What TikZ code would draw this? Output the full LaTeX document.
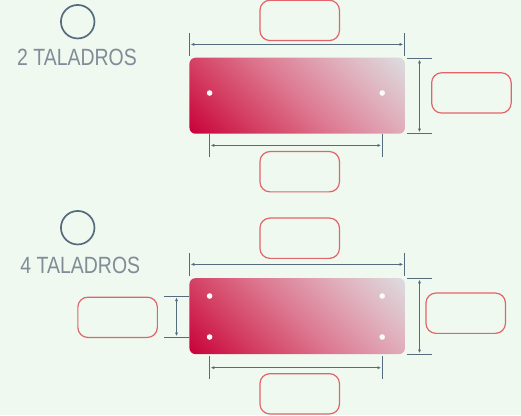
\documentclass[tikz,border=0pt]{standalone}
\usepackage{fontspec}
\setmainfont{Liberation Sans}
\usetikzlibrary{arrows.meta}
\definecolor{bgc}{HTML}{EFF9F0}
\definecolor{dimc}{HTML}{566B7C}
\definecolor{boxc}{HTML}{E06468}
\definecolor{labc}{HTML}{808C97}
\definecolor{plA}{HTML}{C8003A}
\definecolor{plQ}{HTML}{D43F62}
\definecolor{plM}{HTML}{DD7A92}
\definecolor{plR}{HTML}{E0AEBB}
\definecolor{plB}{HTML}{DCDDE0}
\pgfdeclarehorizontalshading{plateshade}{420bp}{color(0bp)=(plA); color(107bp)=(plA); color(158.5bp)=(plQ); color(210bp)=(plM); color(261.5bp)=(plR); color(313bp)=(plB); color(420bp)=(plB)}
\tikzset{
  x=1bp,y=-1bp,
  valuebox/.style={draw=boxc,line width=1.2bp,rounded corners=10bp,minimum width=79.5bp,minimum height=40.3bp,inner sep=0pt,fill=none},
  plate/.style={rounded corners=6bp,minimum width=215.5bp,minimum height=76bp,inner sep=0pt,
    path picture={\node[inner sep=0pt,rotate=45] at (path picture bounding box.center) {\pgfuseshading{plateshade}};}},
  hole/.style={circle,fill=bgc!50!white,minimum size=5.6bp,inner sep=0pt},
  tick/.style={draw=dimc,line width=1.05bp},
  dimline/.style={draw=dimc,line width=1.05bp,shorten <=1.2bp,shorten >=1.2bp,{Latex[length=3.6bp,width=3.2bp]}-{Latex[length=3.6bp,width=3.2bp]}},
  ring/.style={circle,draw=dimc,line width=1.7bp,minimum size=33.5bp,inner sep=0pt},
  caption/.style={text=labc,font=\fontsize{23.5bp}{23.5bp}\selectfont,xscale=.828,inner sep=0pt,anchor=center}
}
\begin{document}
\begin{tikzpicture}
\useasboundingbox[fill=bgc] (0,0) rectangle (521,415);
% --- 2 taladros
\node[ring] (r1) at (77.7,21.7) {};
\node[caption] (t1) at (77,57.3) {2 TALADROS};
\node[plate] (p1) at (297.2,95.7) {};
\node[hole] (h1) at (209.6,93) {};
\node[hole] (h2) at (382.2,93) {};
\node[valuebox] (b1) at (299.7,20.4) {};
\node[valuebox] (b2) at (471.4,92.9) {};
\node[valuebox] (b3) at (299.7,171.7) {};
\coordinate (a1) at (189.5,33); \coordinate (a2) at (189.5,56);
\coordinate (a3) at (404.4,33); \coordinate (a4) at (404.4,56);
\draw[tick] (a1) -- (a2); \draw[tick] (a3) -- (a4);
\coordinate (a5) at (189.5,44.4); \coordinate (a6) at (404.4,44.4);
\draw[dimline] (a5) -- (a6);
\coordinate (c1) at (209.5,134); \coordinate (c2) at (209.5,157);
\coordinate (c3) at (382.3,134); \coordinate (c4) at (382.3,157);
\draw[tick] (c1) -- (c2); \draw[tick] (c3) -- (c4);
\coordinate (c5) at (209.5,145.4); \coordinate (c6) at (382.3,145.4);
\draw[dimline] (c5) -- (c6);
\coordinate (d1) at (407,58.5); \coordinate (d2) at (432,58.5);
\coordinate (d3) at (407,133.4); \coordinate (d4) at (432,133.4);
\draw[tick] (d1) -- (d2); \draw[tick] (d3) -- (d4);
\coordinate (d5) at (419.5,58.5); \coordinate (d6) at (419.5,133.4);
\draw[dimline] (d5) -- (d6);
% --- 4 taladros
\node[ring] (r2) at (77.7,227.7) {};
\node[caption] (t2) at (80.3,265.3) {4 TALADROS};
\node[plate] (p2) at (297.2,316.1) {};
\node[hole] (h3) at (209.6,296) {};
\node[hole] (h4) at (382.2,296) {};
\node[hole] (h5) at (209.6,337) {};
\node[hole] (h6) at (382.2,337) {};
\node[valuebox] (b4) at (299.7,238.2) {};
\node[valuebox] (b5) at (465.7,313.2) {};
\node[valuebox] (b6) at (299.7,393.8) {};
\node[valuebox] (b7) at (117.6,317.3) {};
\coordinate (e1) at (189.5,253); \coordinate (e2) at (189.5,276);
\coordinate (e3) at (404.4,253); \coordinate (e4) at (404.4,276);
\draw[tick] (e1) -- (e2); \draw[tick] (e3) -- (e4);
\coordinate (e5) at (189.5,264.4); \coordinate (e6) at (404.4,264.4);
\draw[dimline] (e5) -- (e6);
\coordinate (f1) at (209.5,356); \coordinate (f2) at (209.5,379);
\coordinate (f3) at (382.3,356); \coordinate (f4) at (382.3,379);
\draw[tick] (f1) -- (f2); \draw[tick] (f3) -- (f4);
\coordinate (f5) at (209.5,367.7); \coordinate (f6) at (382.3,367.7);
\draw[dimline] (f5) -- (f6);
\coordinate (g1) at (407,278.5); \coordinate (g2) at (432,278.5);
\coordinate (g3) at (407,354.3); \coordinate (g4) at (432,354.3);
\draw[tick] (g1) -- (g2); \draw[tick] (g3) -- (g4);
\coordinate (g5) at (419.5,278.5); \coordinate (g6) at (419.5,354.3);
\draw[dimline] (g5) -- (g6);
\coordinate (k1) at (164,296.3); \coordinate (k2) at (189,296.3);
\coordinate (k3) at (164,337.3); \coordinate (k4) at (189,337.3);
\draw[tick] (k1) -- (k2); \draw[tick] (k3) -- (k4);
\coordinate (k5) at (176.5,296.3); \coordinate (k6) at (176.5,337.3);
\draw[dimline] (k5) -- (k6);
\end{tikzpicture}
\end{document}
